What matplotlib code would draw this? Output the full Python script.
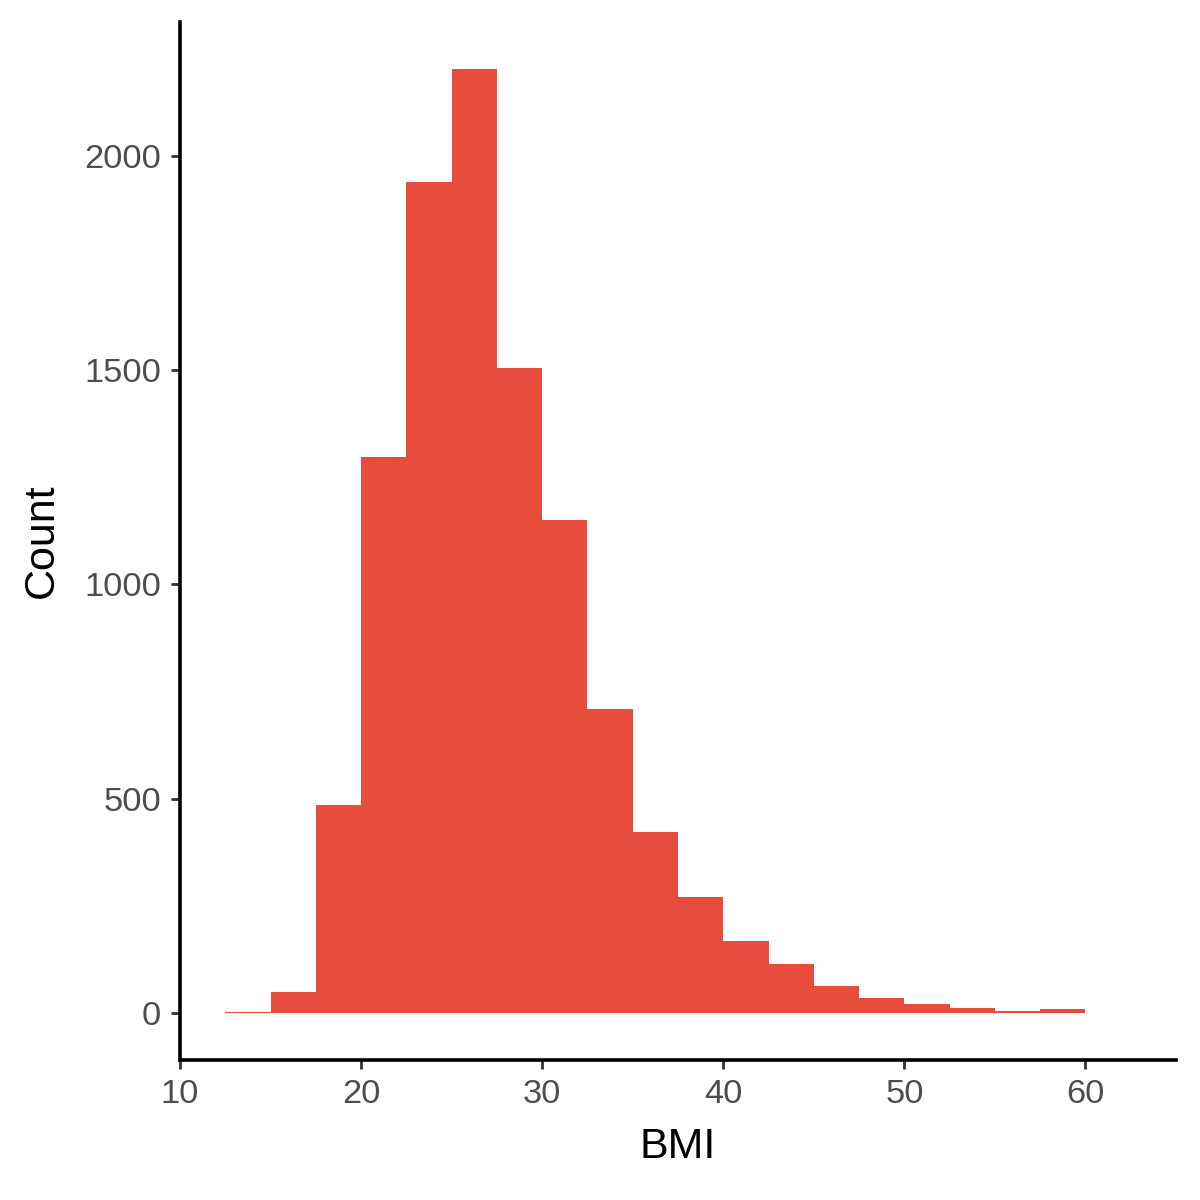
import matplotlib
matplotlib.use("Agg")
import matplotlib.pyplot as plt

# histogram counts (bin width 2.5)
bin_edges = [12.5, 15, 17.5, 20, 22.5, 25, 27.5, 30, 32.5, 35, 37.5, 40,
             42.5, 45, 47.5, 50, 52.5, 55, 57.5, 60]
counts = [2, 49, 486, 1297, 1939, 2203, 1505, 1150, 710, 423, 271, 168,
          113, 62, 35, 20, 11, 5, 9]
x_ticks = [10, 20, 30, 40, 50, 60]
y_ticks = [0, 500, 1000, 1500, 2000]

plt.rcParams['font.family'] = ['Liberation Sans', 'DejaVu Sans']

fig = plt.figure(figsize=(6, 6), dpi=200)
ax = fig.add_axes([0.15, 0.1167, 0.83, 0.865])

lefts = bin_edges[:-1]
widths = [b - a for a, b in zip(bin_edges[:-1], bin_edges[1:])]
ax.bar(lefts, counts, width=widths, align='edge', color='#E74C3C',
       edgecolor='none', linewidth=0)

ax.set_xlim(10, 65)
ax.set_ylim(-110, 2313)
ax.set_xticks(x_ticks)
ax.set_yticks(y_ticks)

for side in ['top', 'right']:
    ax.spines[side].set_visible(False)
for side in ['left', 'bottom']:
    ax.spines[side].set_linewidth(1.3)
    ax.spines[side].set_color('black')

ax.tick_params(axis='both', length=3.3, width=1.0, color='#333333',
               labelcolor='#4D4D4D', labelsize=12.4, pad=3.5)

ax.set_xlabel('BMI', fontsize=15.5, color='black', labelpad=6)
ax.set_ylabel('Count', fontsize=15.5, color='black', labelpad=8)

fig.savefig('out.png', dpi=200, facecolor='white')
